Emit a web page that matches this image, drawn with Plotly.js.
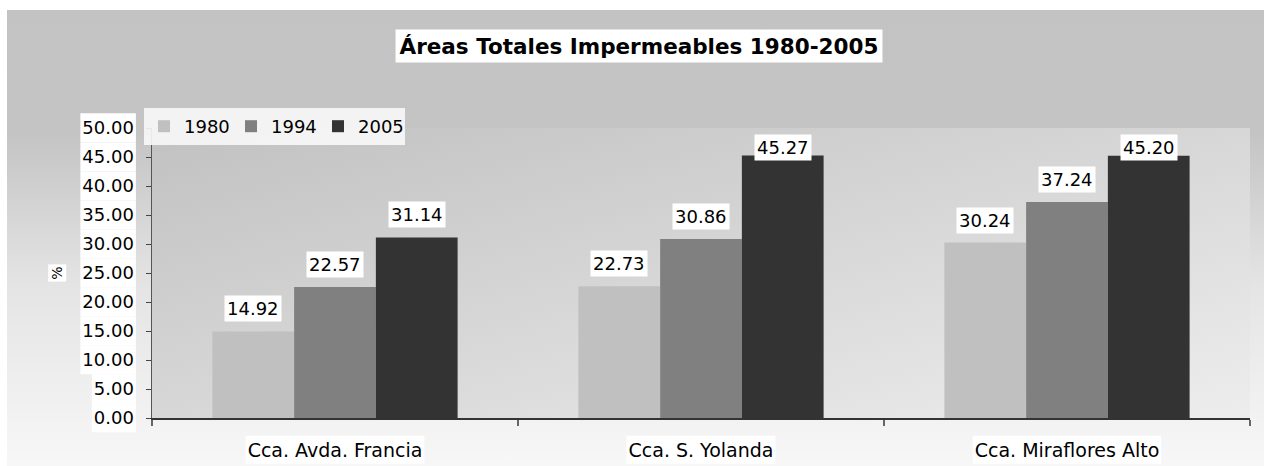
<!DOCTYPE html>
<html><head><meta charset="utf-8">
<script src="https://cdn.plot.ly/plotly-3.0.1.min.js"></script>
<style>
body{margin:0;background:#fff;}
#wrap{position:relative;width:1264px;height:466px;background:#fff;overflow:hidden}
#bg{position:absolute;left:7px;top:10px;width:1257px;height:456px;background:linear-gradient(to bottom,#c3c3c3 0%,#c4c4c4 27%,#e4e4e4 60%,#f7f7f7 100%);}
#plotbg{position:absolute;left:152px;top:128px;width:1098px;height:290px;background:linear-gradient(to bottom right,#c1c1c1 0%,#d7d7d7 50%,#ededed 100%);}
#chart{position:absolute;left:0;top:0;width:1264px;height:466px;}
</style></head><body>
<div id="wrap"><div id="bg"></div><div id="plotbg"></div><div id="chart"></div></div>
<script>
const categories = ['Cca. Avda. Francia', 'Cca. S. Yolanda', 'Cca. Miraflores Alto'];
const seriesNames = ['1980', '1994', '2005'];
const values1980 = [14.92, 22.73, 30.24];
const values1994 = [22.57, 30.86, 37.24];
const values2005 = [31.14, 45.27, 45.20];
const yTicks = [0, 5, 10, 15, 20, 25, 30, 35, 40, 45, 50];
const titleText = 'Áreas Totales Impermeables 1980-2005';
const yTitle = '%';

const colors = ['#c0c0c0', '#808080', '#333333'];
const allValues = [values1980, values1994, values2005];
const FONT = 'DejaVu Sans';
const W = 1264, H = 466, L = 152, R = 14, T = 128, B = 48;
const PW = W - L - R, PH = H - T - B;
const bargap = 0.33;
const yMax = 50;

const data = allValues.map((vals, i) => ({
  type: 'bar', name: seriesNames[i], x: categories, y: vals,
  marker: {color: colors[i], line: {width: 0}},
  hoverinfo: 'none'
}));

const barW = (1 - bargap) / 3;
const annotations = [];
allValues.forEach((vals, i) => {
  vals.forEach((v, j) => {
    const high = (yMax - v) * (PH / yMax) < 42;
    annotations.push({
      xref: 'x', yref: 'y', x: j + (i - 1) * barW,
      y: high ? yMax : v, yanchor: high ? 'top' : 'bottom', yshift: high ? -6 : 9,
      text: v.toFixed(2), showarrow: false, bgcolor: '#ffffff', borderpad: 2,
      font: {family: FONT, size: 18, color: '#000'}
    });
  });
});

const layout = {
  width: W, height: H,
  margin: {l: L, r: R, t: T, b: B, autoexpand: false},
  paper_bgcolor: 'rgba(0,0,0,0)', plot_bgcolor: 'rgba(0,0,0,0)',
  font: {family: FONT, size: 18, color: '#000'},
  title: {text: titleText, font: {family: FONT, size: 21.5, color: '#000', weight: 'bold'},
          x: 639 / W, xanchor: 'center', y: 1 - 46 / H, yanchor: 'middle'},
  barmode: 'group', bargap: bargap, bargroupgap: 0,
  showlegend: true,
  legend: {orientation: 'h', x: -8 / PW, y: 1 + 20 / PH, xanchor: 'left', yanchor: 'top',
           bgcolor: 'rgba(248,248,248,0.9)', borderwidth: 0,
           entrywidth: 42, entrywidthmode: 'pixels',
           font: {family: FONT, size: 18, color: '#000'}, traceorder: 'normal'},
  xaxis: {type: 'category', showline: true, linecolor: '#333', linewidth: 2,
          ticks: 'outside', tickson: 'boundaries', ticklen: 6, tickwidth: 2, tickcolor: '#666',
          showgrid: false, zeroline: false, ticklabelstandoff: 14,
          tickfont: {family: FONT, size: 19, color: '#000'}},
  yaxis: {range: [0, yMax], tickvals: yTicks, tickformat: '.2f',
          showline: true, linecolor: '#555', linewidth: 1.5,
          ticks: 'outside', ticklen: 5, tickwidth: 1, tickcolor: '#444',
          showgrid: false, zeroline: false, ticklabelstandoff: 8,
          tickfont: {family: FONT, size: 18, color: '#000'},
          title: {text: yTitle, font: {family: FONT, size: 14, color: '#000'}, standoff: 16}},
  annotations: annotations
};

const gd = document.getElementById('chart');
Plotly.newPlot(gd, data, layout, {staticPlot: true, displayModeBar: false}).then(() => {
  const r0 = gd.getBoundingClientRect();
  const toPX = px => (px - L) / PW;
  const toPY = py => (T + PH - py) / PH;
  const shapes = [];
  function boxFor(el, padX, padY) {
    const b = el.getBoundingClientRect();
    if (!b.width) return;
    shapes.push({type: 'rect', xref: 'paper', yref: 'paper', layer: 'below',
      x0: toPX(b.left - r0.left - padX), x1: toPX(b.right - r0.left + padX),
      y0: toPY(b.bottom - r0.top + padY), y1: toPY(b.top - r0.top - padY),
      fillcolor: '#ffffff', line: {width: 0}});
  }
  gd.querySelectorAll('.ytick text').forEach(el => boxFor(el, 2, 4));
  gd.querySelectorAll('.xtick text').forEach(el => boxFor(el, 2, 3));
  gd.querySelectorAll('.gtitle').forEach(el => boxFor(el, 4, 4));
  gd.querySelectorAll('.ytitle').forEach(el => boxFor(el, 1, 2));
  return Plotly.relayout(gd, {shapes: shapes});
});
</script>
</body></html>
